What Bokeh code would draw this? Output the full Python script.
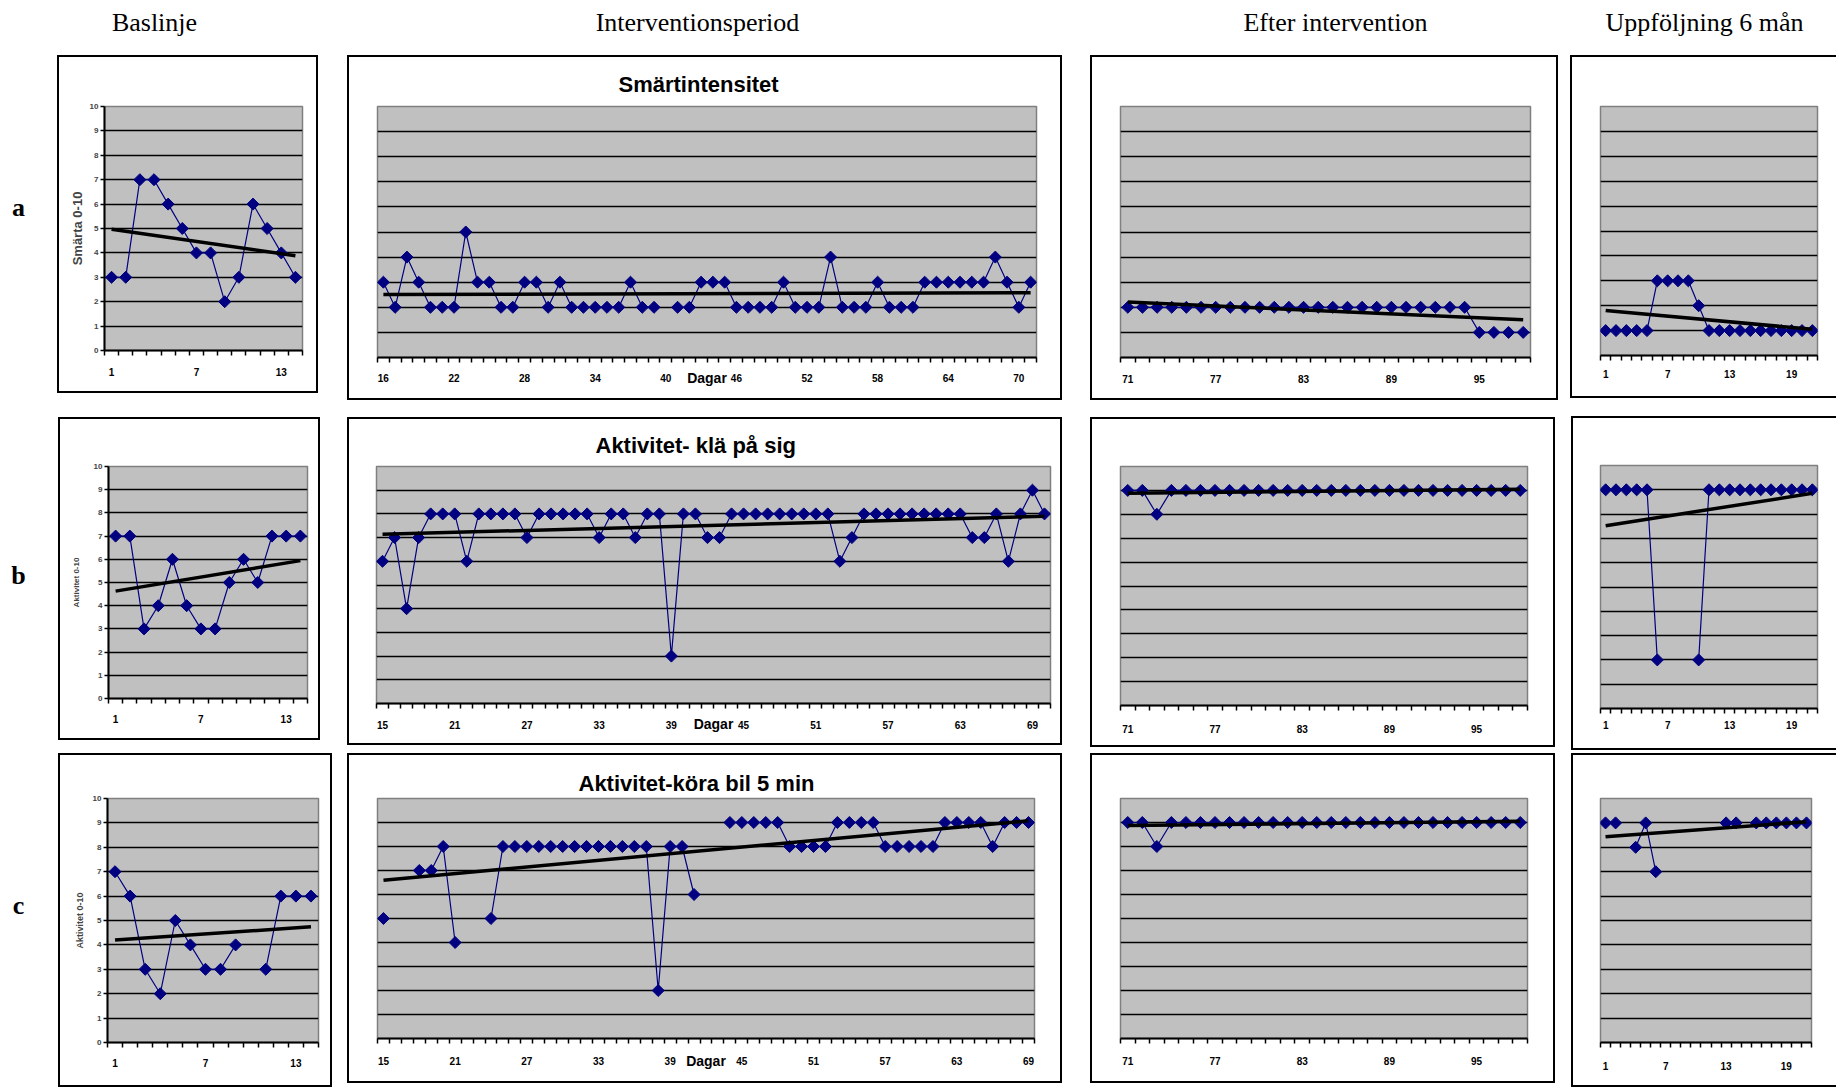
import numpy as np
from bokeh.plotting import figure
from bokeh.layouts import row, column
from bokeh.models import Range1d, FixedTicker
from bokeh.embed import file_html
from bokeh.resources import INLINE
from bokeh.core.properties import value

nan = float("nan")

# ---------------- texts ----------------
column_headers = ["Baslinje", "Interventionsperiod", "Efter intervention", "Uppföljning 6 mån"]
row_letters = ["a", "b", "c"]
panel_titles = ["Smärtintensitet", "Aktivitet- klä på sig", "Aktivitet-köra bil 5 min"]
baseline_ylabels = ["Smärta 0-10", "Aktivitet 0-10", "Aktivitet 0-10"]
x_title = "Dagar"

# ---------------- data ----------------
baseline_days = list(range(1, 15))
baseline_ticks = [1, 7, 13]
base_a = [3, 3, 7, 7, 6, 5, 4, 4, 2, 3, 6, 5, 4, 3]
base_b = [7, 7, 3, 4, 6, 4, 3, 3, 5, 6, 5, 7, 7, 7]
base_c = [7, 6, 3, 2, 5, 4, 3, 3, 4, nan, 3, 6, 6, 6]

int_a_days = list(range(16, 72))
int_a_ticks = [16, 22, 28, 34, 40, 46, 52, 58, 64, 70]
int_a = [3, 2, 4, 3, 2, 2, 2, 5, 3, 3, 2, 2, 3, 3, 2, 3, 2, 2, 2, 2, 2, 3, 2, 2, nan,
         2, 2, 3, 3, 3, 2, 2, 2, 2, 3, 2, 2, 2, 4, 2, 2, 2, 3, 2, 2, 2, 3, 3, 3, 3, 3, 3, 4, 3, 2, 3]

int_b_days = list(range(15, 71))
int_b_ticks = [15, 21, 27, 33, 39, 45, 51, 57, 63, 69]
int_b = [6, 7, 4, 7, 8, 8, 8, 6, 8, 8, 8, 8, 7, 8, 8, 8, 8, 8, 7, 8, 8, 7, 8, 8, 2, 8, 8, 7,
         7, 8, 8, 8, 8, 8, 8, 8, 8, 8, 6, 7, 8, 8, 8, 8, 8, 8, 8, 8, 8, 7, 7, 8, 6, 8, 9, 8]

int_c_days = list(range(15, 70))
int_c_ticks = [15, 21, 27, 33, 39, 45, 51, 57, 63, 69]
int_c = [5, nan, nan, 7, 7, 8, 4, nan, nan, 5, 8, 8, 8, 8, 8, 8, 8, 8, 8, 8, 8, 8, 8, 2, 8, 8, 6,
         nan, nan, 9, 9, 9, 9, 9, 8, 8, 8, 8, 9, 9, 9, 9, 8, 8, 8, 8, 8, 9, 9, 9, 9, 8, 9, 9, 9]

after_days = list(range(71, 99))
after_ticks = [71, 77, 83, 89, 95]
after_a = [2, 2, 2, 2, 2, 2, 2, 2, 2, 2, 2, 2, 2, 2, 2, 2, 2, 2, 2, 2, 2, 2, 2, 2, 1, 1, 1, 1]
after_b = [9, 9, 8, 9, 9, 9, 9, 9, 9, 9, 9, 9, 9, 9, 9, 9, 9, 9, 9, 9, 9, 9, 9, 9, 9, 9, 9, 9]
after_c = [9, 9, 8, 9, 9, 9, 9, 9, 9, 9, 9, 9, 9, 9, 9, 9, 9, 9, 9, 9, 9, 9, 9, 9, 9, 9, 9, 9]

follow_days = list(range(1, 22))
follow_ticks = [1, 7, 13, 19]
follow_a = [1, 1, 1, 1, 1, 3, 3, 3, 3, 2, 1, 1, 1, 1, 1, 1, 1, 1, 1, 1, 1]
follow_b = [9, 9, 9, 9, 9, 2, nan, nan, nan, 2, 9, 9, 9, 9, 9, 9, 9, 9, 9, 9, 9]
follow_c = [9, 9, nan, 8, 9, 7, nan, nan, nan, nan, nan, nan, 9, 9, nan, 9, 9, 9, 9, 9, 9]

# ---------------- style ----------------
SANS = "Liberation Sans"
SERIF = "Liberation Serif"
NAVY = "#000080"
TOTAL_W = 1836
FULL_BOX = {"box-shadow": "inset 0 0 0 2px #000", "background-color": "#fff"}
OPEN_BOX = {"box-shadow": "inset 2px 0 0 0 #000, inset 0 2px 0 0 #000, inset 0 -2px 0 0 #000",
            "background-color": "#fff"}


def panel(days, vals, ticks, w, h, mb, margin, css, lab_off,
          ylabel=None, yl_size=None, yl_standoff=0,
          title=None, title_offset=0, title_standoff=10, dagar_standoff=None):
    x0, x1 = days[0] - 0.5, days[-1] + 0.5
    p = figure(width=w, height=h, output_backend="svg", toolbar_location=None,
               x_range=Range1d(x0, x1), y_range=Range1d(0, 10),
               min_border_left=mb[0], min_border_right=mb[1],
               min_border_top=mb[2], min_border_bottom=mb[3],
               margin=margin, styles=css)
    p.background_fill_color = "#C0C0C0"
    p.border_fill_alpha = 0
    p.outline_line_color = "#808080"
    p.outline_line_width = 1.5
    p.xgrid.visible = False
    p.ygrid.ticker = FixedTicker(ticks=list(range(1, 10)))
    p.ygrid.grid_line_color = "black"
    p.ygrid.grid_line_width = 1.7

    xa = p.xaxis[0]
    xa.ticker = FixedTicker(ticks=ticks, minor_ticks=list(np.arange(x0, x1 + 0.5, 1.0)))
    xa.major_tick_out = 0
    xa.major_tick_in = 0
    xa.minor_tick_out = 5
    xa.minor_tick_in = 0
    xa.minor_tick_line_color = "black"
    xa.minor_tick_line_width = 1.5
    xa.axis_line_color = "black"
    xa.axis_line_width = 2
    xa.major_label_text_font = SANS
    xa.major_label_text_font_size = "10px"
    xa.major_label_text_font_style = "bold"
    xa.major_label_text_color = "black"
    xa.major_label_standoff = lab_off - 6
    if dagar_standoff is not None:
        xa.axis_label = x_title
        xa.axis_label_text_font = SANS
        xa.axis_label_text_font_size = "14px"
        xa.axis_label_text_font_style = "bold"
        xa.axis_label_text_color = "black"
        xa.axis_label_standoff = dagar_standoff

    ya = p.yaxis[0]
    if ylabel is None:
        ya.visible = False
    else:
        ya.ticker = FixedTicker(ticks=list(range(0, 11)))
        ya.major_tick_out = 4
        ya.major_tick_in = 0
        ya.minor_tick_out = 0
        ya.minor_tick_in = 0
        ya.major_tick_line_width = 1.5
        ya.axis_line_color = "black"
        ya.axis_line_width = 2
        ya.major_label_text_font = SANS
        ya.major_label_text_font_size = "8px"
        ya.major_label_text_font_style = "bold"
        ya.major_label_standoff = 2
        ya.axis_label = ylabel
        ya.axis_label_text_font = SANS
        ya.axis_label_text_font_size = yl_size
        ya.axis_label_text_font_style = "bold"
        ya.axis_label_standoff = yl_standoff

    if title is not None:
        p.title.text = title
        p.title.align = "left"
        p.title.offset = title_offset
        p.title.standoff = title_standoff
        p.title.text_font = SANS
        p.title.text_font_size = "22px"
        p.title.text_font_style = "bold"
        p.title.text_color = "black"

    xs = np.array(days, dtype=float)
    ys = np.array(vals, dtype=float)
    p.line(xs, ys, line_color=NAVY, line_width=1.2)
    p.scatter(xs, ys, marker="square", size=8.5, angle=np.pi / 4,
              fill_color=NAVY, line_color=NAVY)
    ok = np.isfinite(ys)
    k, b = np.polyfit(xs[ok], ys[ok], 1)
    tx = np.array([xs[0], xs[-1]])
    p.line(tx, k * tx + b, line_color="black", line_width=3.5)
    return p


def blank(w, h, xr, yr, margin=(0, 0, 0, 0)):
    p = figure(width=w, height=h, output_backend="svg", toolbar_location=None,
               x_range=Range1d(*xr), y_range=Range1d(*yr), min_border=0, margin=margin)
    p.axis.visible = False
    p.grid.visible = False
    p.outline_line_color = None
    p.background_fill_color = "white"
    p.border_fill_color = "white"
    return p


# header
hdr = blank(TOTAL_W, 55, (0, TOTAL_W), (55, 0))
hdr.text(x=[154, 697, 1335, 1704], y=[22, 22, 22, 22], text=column_headers,
         text_font=value(SERIF), text_font_size="26px", text_align="center",
         text_baseline="middle", text_color="black")


def letter(i, top, bottom, ypos):
    p = blank(57, bottom - top, (0, 57), (bottom, top))
    p.text(x=[18], y=[ypos], text=[row_letters[i]], text_font=value(SERIF),
           text_font_size="26px", text_font_style="bold", text_align="center",
           text_baseline="middle", text_color="black")
    return p


# row a  (y 55 .. 400)
la = letter(0, 55, 400, 194)
A1 = panel(baseline_days, base_a, baseline_ticks, 261, 338, (47, 16, 48, 38), (0, 0, 0, 0), FULL_BOX, 18,
           ylabel=baseline_ylabels[0], yl_size="13px", yl_standoff=2)
A2 = panel(int_a_days, int_a, int_a_ticks, 715, 345, (30, 26, 51, 43), (0, 0, 0, 29), FULL_BOX, 17,
           title=panel_titles[0], title_offset=241, title_standoff=20, dagar_standoff=-15)
A3 = panel(after_days, after_a, after_ticks, 468, 345, (30, 28, 46, 40), (0, 0, 0, 28), FULL_BOX, 18)
A4 = panel(follow_days, follow_a, follow_ticks, TOTAL_W - 1570, 343, (30, TOTAL_W - 1817, 44, 35),
           (0, 0, 0, 12), OPEN_BOX, 15)

# row b  (y 416 .. 750)
lb = letter(1, 416, 750, 567)
B1 = panel(baseline_days, base_b, baseline_ticks, 262, 323, (50, 13, 40, 42), (1, 0, 0, 1), FULL_BOX, 17,
           ylabel=baseline_ylabels[1], yl_size="8px", yl_standoff=10)
B2 = panel(int_b_days, int_b, int_b_ticks, 715, 328, (29, 12, 49, 40), (1, 0, 0, 27), FULL_BOX, 18,
           title=panel_titles[1], title_offset=219, title_standoff=18, dagar_standoff=-16)
B3 = panel(after_days, after_b, after_ticks, 465, 330, (30, 28, 43, 42), (1, 0, 0, 28), FULL_BOX, 20)
B4 = panel(follow_days, follow_b, follow_ticks, TOTAL_W - 1571, 334, (29, TOTAL_W - 1817, 27, 38),
           (0, 0, 0, 16), OPEN_BOX, 13)

# row c  (y 753 .. 1087)
lc = letter(2, 753, 1087, 899)
C1 = panel(baseline_days, base_c, baseline_ticks, 274, 334, (49, 14, 45, 39), (0, 0, 0, 1), FULL_BOX, 17,
           ylabel=baseline_ylabels[2], yl_size="9px", yl_standoff=5)
C2 = panel(int_c_days, int_c, int_c_ticks, 715, 330, (30, 28, 44, 40), (0, 0, 0, 15), FULL_BOX, 19,
           title=panel_titles[2], title_offset=201, title_standoff=6, dagar_standoff=-15)
C3 = panel(after_days, after_c, after_ticks, 465, 330, (30, 28, 44, 40), (0, 0, 0, 28), FULL_BOX, 19)
C4 = panel(follow_days, follow_c, follow_ticks, TOTAL_W - 1571, 334, (29, TOTAL_W - 1811, 40, 45),
           (0, 0, 0, 16), OPEN_BOX, 20)

row_a = row(la, A1, A2, A3, A4)
row_b = row(lb, B1, B2, B3, B4, margin=(16, 0, 0, 0))
row_c = row(lc, C1, C2, C3, C4, margin=(3, 0, 0, 0))
page = column(hdr, row_a, row_b, row_c)

open("out.html", "w").write(file_html(page, INLINE))
